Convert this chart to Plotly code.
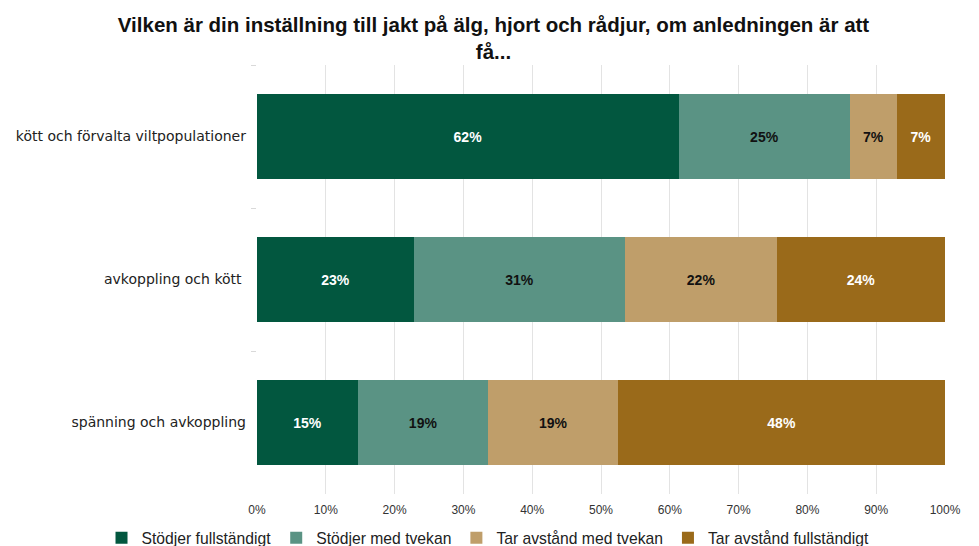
import plotly.graph_objects as go

categories = ["kött och förvalta viltpopulationer", "avkoppling och kött ", "spänning och avkoppling"]
series_names = ["Stödjer fullständigt", "Stödjer med tvekan", "Tar avstånd med tvekan", "Tar avstånd fullständigt"]
stod_full = [61.3, 22.8, 14.7]
stod_tvek = [24.9, 30.7, 18.9]
avst_tvek = [6.8, 22.1, 18.9]
avst_full = [7.0, 24.4, 47.5]
label_full = ["62%", "23%", "15%"]
label_stod_tvek = ["25%", "31%", "19%"]
label_avst_tvek = ["7%", "22%", "19%"]
label_avst_full = ["7%", "24%", "48%"]
tick_vals = [0, 10, 20, 30, 40, 50, 60, 70, 80, 90, 100]
tick_text = ["0%", "10%", "20%", "30%", "40%", "50%", "60%", "70%", "80%", "90%", "100%"]

colors = ["#02573F", "#5A9384", "#BF9E6A", "#9A6A1A"]
text_colors = ["white", "#111111", "#111111", "white"]
values = [stod_full, stod_tvek, avst_tvek, avst_full]
labels = [label_full, label_stod_tvek, label_avst_tvek, label_avst_full]

fig = go.Figure()
for name, vals, lab, c, tc in zip(series_names, values, labels, colors, text_colors):
    fig.add_trace(go.Bar(
        y=categories, x=vals, name=name, orientation="h",
        marker=dict(color=c, line=dict(width=0)),
        text=lab, textposition="inside", insidetextanchor="middle",
        textfont=dict(color=tc, size=14, family="Liberation Sans, Arial, sans-serif"),
        texttemplate="<b>%{text}</b>",
        constraintext="none",
    ))

# the page body adds an 8 px offset, so the figure is 8 px smaller than the window
fig.update_layout(
    barmode="stack",
    bargap=0.41,
    width=971, height=538,
    paper_bgcolor="white", plot_bgcolor="white",
    margin=dict(l=249, r=34, t=57, b=52, autoexpand=False),
    title=dict(
        text="<b>Vilken är din inställning till jakt på älg, hjort och rådjur, om anledningen är att<br>få...</b>",
        x=0.5, xanchor="center", y=0.955, yanchor="top",
        font=dict(family="Liberation Sans, Arial, sans-serif", size=20.5, color="#111111"),
    ),
    legend=dict(
        orientation="h",
        x=-0.226, xanchor="left", y=-0.1026, yanchor="middle",
        font=dict(family="Liberation Sans, Arial, sans-serif", size=15.7, color="#222222"),
        itemwidth=30, traceorder="normal",
        bgcolor="rgba(0,0,0,0)",
    ),
    showlegend=True,
)
fig.update_xaxes(
    range=[0, 100], tickvals=tick_vals, ticktext=tick_text,
    showgrid=True, gridcolor="#E3E3E3", gridwidth=1,
    zeroline=False, showline=False, automargin=False,
    tickfont=dict(family="Liberation Sans, Arial, sans-serif", size=12, color="#333333"),
    ticks="", ticklabelstandoff=7,
)
fig.update_yaxes(
    autorange="reversed", automargin=False,
    showgrid=False, showline=False,
    ticks="outside", tickson="boundaries", ticklen=5, tickcolor="#D9D9D9",
    tickfont=dict(family="DejaVu Sans, sans-serif", size=14, color="#222222"),
    ticklabelstandoff=10,
)

fig.write_html("out.html")
